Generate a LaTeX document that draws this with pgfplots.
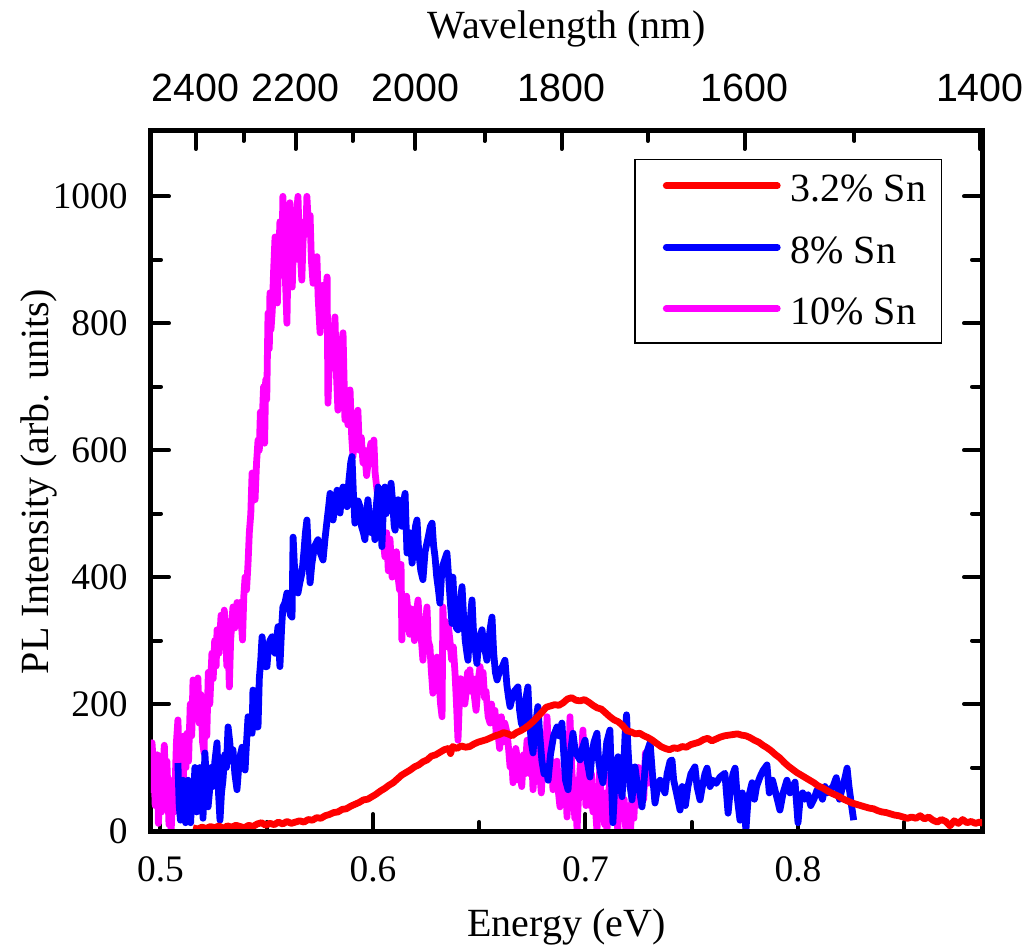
\documentclass[border=0pt]{standalone}
\usepackage{fontspec}
\setmainfont{Liberation Serif}
\newfontfamily\sansfont{Liberation Sans}
\usepackage{pgfplots}
\usepackage{pgfplotstable}
\pgfplotsset{compat=1.18}
\definecolor{cRed}{RGB}{255,0,0}
\definecolor{cBlue}{RGB}{0,0,255}
\definecolor{cMag}{RGB}{255,0,255}

\pgfplotstableread{
x y
0.4955 60
0.4960 139
0.4970 90
0.4975 40
0.4985 120
0.4990 12
0.5000 70
0.5005 30
0.5012 100
0.5018 135
0.5025 60
0.5030 110
0.5040 10
0.5045 80
0.5050 0
0.5058 60
0.5065 30
0.5075 140
0.5082 175
0.5090 91
0.5098 120
0.5106 60
0.5112 150
0.5120 100
0.5125 154
0.5132 110
0.5140 200
0.5147 150
0.5153 238
0.5160 180
0.5168 220
0.5176 241
0.5182 170
0.5190 215
0.5198 140
0.5205 123
0.5210 200
0.5218 150
0.5225 250
0.5232 200
0.5242 280
0.5248 240
0.5255 300
0.5262 260
0.5266 317
0.5275 280
0.5285 340
0.5292 300
0.5300 348
0.5306 320
0.5312 260
0.5318 300
0.5324 227
0.5330 300
0.5336 330
0.5341 353
0.5350 320
0.5360 360
0.5368 340
0.5374 360
0.5380 330
0.5386 301
0.5392 370
0.5398 400
0.5405 380
0.5412 422
0.5418 470
0.5425 500
0.5431 564
0.5438 540
0.5445 522
0.5452 580
0.5459 616
0.5465 600
0.5470 660
0.5478 640
0.5485 700
0.5490 611
0.5495 711
0.5500 680
0.5506 816
0.5512 760
0.5515 848
0.5520 790
0.5526 820
0.5532 880
0.5539 936
0.5545 860
0.5550 832
0.5556 900
0.5562 960
0.5570 880
0.5576 1000
0.5582 920
0.5590 850
0.5595 800
0.5600 900
0.5605 960
0.5609 990
0.5615 920
0.5620 857
0.5626 930
0.5632 900
0.5640 970
0.5647 1000
0.5652 940
0.5660 900
0.5665 868
0.5671 930
0.5678 960
0.5684 940
0.5689 1000
0.5695 960
0.5704 970
0.5710 900
0.5718 863
0.5725 880
0.5736 905
0.5742 840
0.5751 785
0.5758 820
0.5765 860
0.5772 800
0.5778 850
0.5784 873
0.5788 674
0.5795 740
0.5802 760
0.5810 730
0.5816 780
0.5821 810
0.5828 720
0.5835 663
0.5842 720
0.5850 760
0.5859 785
0.5868 648
0.5875 690
0.5882 640
0.5892 695
0.5900 620
0.5906 590
0.5912 640
0.5920 620
0.5929 663
0.5936 600
0.5945 620
0.5953 580
0.5960 600
0.5970 560
0.5980 590
0.5990 611
0.5998 580
0.6004 616
0.6010 564
0.6019 537
0.6025 520
0.6032 480
0.6040 500
0.6048 460
0.6056 432
0.6064 470
0.6072 410
0.6080 460
0.6090 400
0.6098 430
0.6104 416
0.6110 440
0.6118 400
0.6125 380
0.6132 420
0.6136 301
0.6141 364
0.6150 330
0.6158 370
0.6165 344
0.6172 310
0.6180 350
0.6188 322
0.6195 300
0.6203 340
0.6212 364
0.6220 320
0.6228 300
0.6235 269
0.6242 310
0.6248 330
0.6254 353
0.6260 300
0.6268 290
0.6275 250
0.6282 217
0.6290 260
0.6296 240
0.6301 274
0.6310 240
0.6318 200
0.6325 180
0.6329 353
0.6335 300
0.6342 330
0.6350 290
0.6355 322
0.6362 300
0.6370 270
0.6378 290
0.6386 249
0.6393 200
0.6400 143
0.6406 200
0.6412 240
0.6418 220
0.6424 238
0.6432 200
0.6438 217
0.6445 250
0.6450 230
0.6456 254
0.6462 220
0.6470 240
0.6478 210
0.6485 190
0.6489 206
0.6496 240
0.6504 259
0.6510 230
0.6518 250
0.6525 210
0.6532 220
0.6536 202
0.6542 180
0.6551 170
0.6558 200
0.6565 170
0.6574 190
0.6580 150
0.6588 154
0.6596 130
0.6604 180
0.6612 140
0.6620 170
0.6631 154
0.6638 130
0.6645 101
0.6652 120
0.6659 76
0.6665 100
0.6672 130
0.6678 117
0.6685 80
0.6692 100
0.6700 70
0.6708 120
0.6715 90
0.6725 143
0.6732 110
0.6740 90
0.6747 120
0.6753 65
0.6760 100
0.6768 80
0.6776 130
0.6785 90
0.6792 60
0.6800 107
0.6808 140
0.6814 120
0.6819 180
0.6826 120
0.6833 90
0.6840 110
0.6847 65
0.6853 100
0.6860 70
0.6866 110
0.6873 60
0.6880 38
0.6887 90
0.6895 60
0.6904 100
0.6913 22
0.6920 80
0.6927 180
0.6935 100
0.6942 60
0.6950 20
0.6955 80
0.6960 0
0.6968 60
0.6975 100
0.6981 120
0.6988 159
0.6995 90
0.7002 40
0.7010 100
0.7016 60
0.7021 40
0.7028 90
0.7035 30
0.7042 70
0.7050 20
0.7054 0
0.7060 60
0.7068 100
0.7075 30
0.7082 40
0.7090 10
0.7095 60
0.7101 0
0.7108 50
0.7115 90
0.7122 20
0.7130 70
0.7138 110
0.7145 40
0.7152 0
0.7160 60
0.7168 80
0.7175 20
0.7182 50
0.7190 0
0.7198 40
0.7205 10
0.7212 0
0.7220 60
0.7228 20
0.7235 90
0.7242 40
0.7250 100
0.7258 60
0.7266 85
0.7274 50
0.7282 123
0.7288 70
}\tenSn

\pgfplotstableread{
x y
0.5082 107
0.5088 40
0.5094 17
0.5100 70
0.5106 80
0.5112 30
0.5118 13
0.5124 60
0.5130 80
0.5136 40
0.5142 13
0.5148 70
0.5155 50
0.5162 100
0.5170 30
0.5178 60
0.5186 100
0.5195 85
0.5200 20
0.5209 123
0.5216 80
0.5224 38
0.5230 60
0.5238 100
0.5246 70
0.5256 110
0.5266 139
0.5273 60
0.5280 17
0.5287 60
0.5294 80
0.5302 120
0.5310 100
0.5318 164
0.5326 140
0.5333 110
0.5341 128
0.5350 90
0.5360 65
0.5368 100
0.5376 120
0.5384 132
0.5392 110
0.5398 96
0.5405 140
0.5412 180
0.5420 160
0.5431 154
0.5435 222
0.5442 190
0.5450 164
0.5459 164
0.5465 240
0.5472 270
0.5478 306
0.5485 280
0.5492 259
0.5501 259
0.5508 290
0.5515 300
0.5525 306
0.5532 290
0.5539 280
0.5546 300
0.5553 322
0.5562 259
0.5570 320
0.5576 353
0.5586 360
0.5595 375
0.5605 350
0.5612 340
0.5619 337
0.5624 463
0.5630 420
0.5638 400
0.5647 375
0.5655 390
0.5666 407
0.5675 440
0.5682 470
0.5689 490
0.5696 440
0.5704 391
0.5712 420
0.5720 438
0.5727 450
0.5741 459
0.5750 440
0.5765 427
0.5774 460
0.5784 490
0.5791 510
0.5798 532
0.5805 500
0.5812 490
0.5820 510
0.5831 537
0.5838 520
0.5845 501
0.5852 530
0.5859 542
0.5868 520
0.5878 511
0.5886 550
0.5895 580
0.5901 590
0.5908 530
0.5915 485
0.5922 500
0.5930 520
0.5939 511
0.5946 480
0.5955 470
0.5962 459
0.5970 500
0.5976 522
0.5984 490
0.5992 470
0.6000 500
0.6009 459
0.6015 510
0.6024 542
0.6033 520
0.6042 448
0.6050 520
0.6056 542
0.6062 500
0.6070 530
0.6078 520
0.6085 548
0.6092 520
0.6100 480
0.6104 474
0.6110 500
0.6118 522
0.6127 500
0.6136 480
0.6145 520
0.6151 532
0.6160 438
0.6168 470
0.6174 470
0.6184 422
0.6192 450
0.6200 480
0.6207 490
0.6215 440
0.6225 410
0.6235 396
0.6245 440
0.6258 460
0.6270 480
0.6278 485
0.6285 450
0.6292 432
0.6300 400
0.6308 380
0.6315 359
0.6322 400
0.6330 420
0.6340 430
0.6348 438
0.6356 400
0.6364 360
0.6372 327
0.6376 400
0.6382 360
0.6392 320
0.6400 317
0.6410 360
0.6419 385
0.6426 340
0.6434 300
0.6442 280
0.6447 269
0.6455 320
0.6462 350
0.6466 364
0.6472 320
0.6480 290
0.6489 264
0.6498 300
0.6513 317
0.6522 290
0.6530 280
0.6536 269
0.6545 300
0.6552 320
0.6560 337
0.6568 280
0.6576 250
0.6584 238
0.6594 250
0.6610 260
0.6621 269
0.6630 230
0.6638 210
0.6645 196
0.6655 210
0.6665 220
0.6682 227
0.6690 190
0.6698 170
0.6706 164
0.6715 200
0.6729 227
0.6735 180
0.6745 140
0.6753 123
0.6762 160
0.6776 196
0.6785 150
0.6795 110
0.6805 90
0.6815 100
0.6824 80
0.6835 120
0.6850 150
0.6866 164
0.6875 150
0.6889 170
0.6898 120
0.6906 80
0.6918 65
0.6928 120
0.6941 154
0.6950 130
0.6960 120
0.6974 112
0.6985 130
0.6998 143
0.7008 110
0.7021 85
0.7030 120
0.7040 140
0.7054 154
0.7062 110
0.7072 90
0.7082 76
0.7092 110
0.7100 140
0.7115 159
0.7122 80
0.7129 13
0.7136 60
0.7145 100
0.7153 117
0.7162 80
0.7172 54
0.7180 100
0.7186 150
0.7193 183
0.7200 130
0.7210 70
0.7219 49
0.7226 80
0.7233 101
0.7245 70
0.7256 60
0.7266 38
0.7276 80
0.7285 120
0.7304 139
0.7315 90
0.7327 44
0.7340 70
0.7351 80
0.7362 70
0.7374 60
0.7384 90
0.7398 110
0.7407 112
0.7415 80
0.7428 60
0.7445 33
0.7455 70
0.7462 60
0.7470 40
0.7482 70
0.7496 90
0.7515 101
0.7525 70
0.7539 49
0.7550 70
0.7562 90
0.7572 99
0.7586 70
0.7600 80
0.7615 75
0.7633 85
0.7656 91
0.7671 28
0.7680 60
0.7694 90
0.7704 99
0.7715 50
0.7727 17
0.7738 60
0.7745 40
0.7755 2
0.7765 50
0.7784 76
0.7795 50
0.7805 70
0.7821 85
0.7835 95
0.7854 104
0.7865 60
0.7880 80
0.7895 60
0.7915 33
0.7930 60
0.7948 80
0.7962 60
0.7976 70
0.7986 77
0.8000 13
0.8010 50
0.8022 60
0.8033 50
0.8047 57
0.8060 40
0.8075 50
0.8090 65
0.8104 60
0.8115 50
0.8127 70
0.8140 60
0.8151 65
0.8165 70
0.8180 84
0.8195 50
0.8210 70
0.8222 85
0.8231 99
0.8240 70
0.8250 45
0.8262 17
}\eightSn

\pgfplotstableread{
x y
0.5153 5
0.5175 3
0.5195 6
0.5215 4
0.5235 7
0.5255 5
0.5275 8
0.5295 4
0.5315 8
0.5335 6
0.5355 9
0.5375 7
0.5395 5
0.5415 9
0.5435 7
0.5455 11
0.5475 13
0.5495 9
0.5515 12
0.5535 10
0.5555 14
0.5575 11
0.5595 15
0.5615 12
0.5635 14
0.5655 16
0.5675 14
0.5695 18
0.5715 17
0.5735 21
0.5755 20
0.5775 24
0.5795 26
0.5815 29
0.5835 30
0.5855 34
0.5875 35
0.5895 39
0.5915 42
0.5935 45
0.5955 49
0.5975 50
0.5995 54
0.6015 58
0.6035 63
0.6055 67
0.6075 72
0.6095 76
0.6115 82
0.6135 88
0.6155 92
0.6175 96
0.6195 101
0.6215 104
0.6235 109
0.6255 112
0.6275 118
0.6295 120
0.6315 124
0.6335 128
0.6355 130
0.6365 122
0.6375 133
0.6395 130
0.6415 134
0.6435 132
0.6455 133
0.6475 137
0.6495 140
0.6515 142
0.6535 144
0.6555 147
0.6575 150
0.6595 152
0.6615 155
0.6635 153
0.6655 150
0.6675 155
0.6695 158
0.6715 162
0.6735 167
0.6755 173
0.6775 180
0.6795 187
0.6815 195
0.6835 197
0.6855 199
0.6875 198
0.6895 202
0.6915 208
0.6935 210
0.6955 206
0.6975 205
0.6995 207
0.7015 203
0.7035 198
0.7055 194
0.7075 192
0.7095 186
0.7115 180
0.7135 175
0.7155 172
0.7175 166
0.7195 158
0.7215 156
0.7235 153
0.7255 154
0.7275 150
0.7295 147
0.7315 143
0.7335 138
0.7355 133
0.7375 130
0.7395 128
0.7415 131
0.7435 130
0.7455 133
0.7475 132
0.7495 136
0.7515 138
0.7535 140
0.7555 144
0.7575 146
0.7595 142
0.7615 145
0.7635 148
0.7655 150
0.7675 151
0.7695 152
0.7715 153
0.7735 151
0.7755 150
0.7775 147
0.7795 143
0.7815 140
0.7835 135
0.7855 131
0.7875 126
0.7895 120
0.7915 115
0.7935 108
0.7955 102
0.7975 97
0.7995 92
0.8015 88
0.8035 84
0.8055 80
0.8075 76
0.8095 71
0.8115 68
0.8135 64
0.8155 60
0.8175 57
0.8195 54
0.8215 50
0.8235 47
0.8255 44
0.8275 42
0.8295 40
0.8315 38
0.8335 36
0.8355 35
0.8375 32
0.8395 30
0.8415 29
0.8435 27
0.8455 25
0.8475 24
0.8495 22
0.8515 20
0.8535 22
0.8555 20
0.8575 24
0.8595 19
0.8615 22
0.8635 17
0.8655 14
0.8675 18
0.8695 15
0.8715 8
0.8735 16
0.8755 12
0.8775 18
0.8795 13
0.8815 15
0.8835 12
0.8855 14
0.8870 12
}\threeSn

\begin{document}
\begin{tikzpicture}
\pgfplotsset{
  common/.style={
    scale only axis, width=415.5pt, height=350.5pt,
    xmin=0.49553, xmax=0.88659, ymin=-1.6, ymax=1103,
    axis line style={line width=2.5pt, line cap=rect},
    every tick/.style={black, line width=2pt, line cap=round},
    major tick length=9pt, minor tick length=5pt,
    tick align=inside,
  }
}
\begin{axis}[common, name=ax,
  xtick={0.5,0.6,0.7,0.8}, xticklabels={0.5,0.6,0.7,0.8},
  minor xtick={0.55,0.65,0.75,0.85},
  xtick pos=left,
  ytick={0,200,400,600,800,1000}, yticklabels={0,200,400,600,800,1000},
  minor ytick={100,300,500,700,900},
  ytick pos=both, yticklabel pos=left,
  xticklabel style={font=\fontsize{18.7}{22}\selectfont, anchor=base, inner sep=0pt, yshift=-25pt},
  yticklabel style={font=\fontsize{18.7}{22}\selectfont, anchor=east, inner sep=0pt, xshift=-11.5pt},
  xlabel={Energy (eV)},
  xlabel style={font=\fontsize{20}{24}\selectfont, at={([yshift=-52.5pt]axis description cs:0.5,0)}, anchor=base},
  ylabel={PL Intensity (arb. units)},
  ylabel style={font=\fontsize{20}{24}\selectfont, at={([xshift=-51pt]axis description cs:0,0.5)}, anchor=base},
  legend image code/.code={\path (0pt,0pt) (67pt,8pt); \draw[#1] (6.5pt,8pt) -- (62pt,8pt);},
  legend style={at={(1,1)}, anchor=north east, xshift=-20pt, yshift=-14pt,
    draw=black, line width=0.75pt, inner xsep=7.5pt, inner ysep=7.5pt,
    row sep=15.5pt, column sep=0pt, font=\fontsize{20}{24}\selectfont,
    cells={anchor=base west},
    nodes={inner sep=0pt, text height=13.5pt, text depth=0pt}},
]
\addlegendimage{cRed, line width=3.4pt, line cap=round}
\addlegendentry{3.2\% Sn}
\addlegendimage{cBlue, line width=3.4pt, line cap=round}
\addlegendentry{8\% Sn}
\addlegendimage{cMag, line width=3.4pt, line cap=round}
\addlegendentry{10\% Sn}
\addplot[cMag, line width=3.4pt, line join=round, forget plot] table {\tenSn};
\addplot[cBlue, line width=3.4pt, line join=round, forget plot] table {\eightSn};
\addplot[cRed, line width=3.4pt, line join=round, forget plot] table {\threeSn};
\end{axis}
\begin{axis}[common, hide y axis,
  xtick pos=right, xticklabel pos=right,
  xtick={0.516600,0.563564,0.619920,0.688800,0.774900,0.885600},
  xticklabels={2400,2200,2000,1800,1600,1400},
  minor xtick={0.539061,0.590400,0.652547,0.729318,0.826560},
  xticklabel style={font=\sansfont\fontsize{19.7}{23}\selectfont, anchor=base, inner sep=0pt, yshift=14.5pt},
  xlabel={Wavelength (nm)},
  xlabel style={font=\fontsize{20}{24}\selectfont, at={([yshift=46pt]axis description cs:0.5,1)}, anchor=base},
]
\end{axis}
\pgfresetboundingbox
\path[use as bounding box] ([xshift=-75.5pt,yshift=-56.5pt]ax.south west) rectangle ([xshift=23.5pt,yshift=65.5pt]ax.north east);
\end{tikzpicture}
\end{document}
